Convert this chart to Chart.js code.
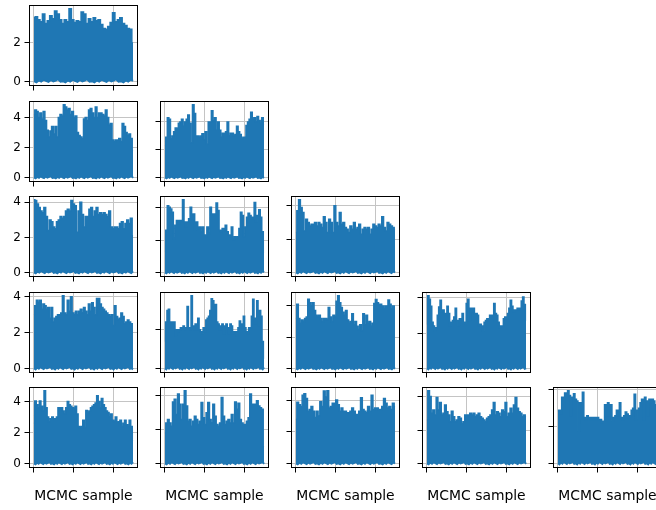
<!DOCTYPE html>
<html>
<head>
<meta charset="utf-8">
<script src="https://cdn.jsdelivr.net/npm/chart.js@4.4.1/dist/chart.umd.min.js"></script>
<style>
  html, body { margin: 0; padding: 0; background: #fff; overflow: hidden; }
  body { width: 656px; height: 510px; position: relative; }
  canvas { position: absolute; }
</style>
</head>
<body>
<script>
// tick positions shared by every trace panel
const sampleTicks = [0, 1000, 2000];
const valueTicks = [0, 2, 4];
const lastSample = 2499;

// lower excursions of the chains (close to zero everywhere)
const floorValues = [0.02, -0.04, 0.06, 0.0, 0.1, 0.03, -0.02, 0.08, 0.01, 0.05, 0.12, -0.01];

// upper excursions of each chain, left to right
const trace00 = [3.3, 3.35, 3.2, 3.1, 3.5, 3.0, 3.15, 3.4, 3.25, 3.65, 3.5, 3.2, 3.0, 3.2, 3.1, 3.77, 3.2, 3.05, 3.15, 3.1, 3.6, 3.5, 3.0, 3.25, 3.1, 3.3, 3.15, 3.2, 2.95, 2.75, 2.7, 2.85, 3.05, 3.56, 3.1, 3.2, 3.3, 3.0, 2.9, 2.75, 2.7, 2.0];
const trace10 = [4.2, 4.5, 4.4, 4.0, 4.3, 3.9, 4.4, 3.8, 3.15, 2.7, 3.1, 3.4, 2.9, 3.4, 2.7, 4.0, 4.2, 4.1, 4.85, 4.7, 4.5, 4.6, 4.2, 4.4, 4.0, 4.1, 3.0, 2.8, 2.7, 2.6, 3.9, 4.0, 3.8, 4.5, 4.6, 4.3, 4.0, 4.7, 4.0, 4.3, 4.3, 4.2, 4.1, 4.5, 4.0, 3.5, 3.6, 2.5, 2.4, 2.5, 2.5, 2.6, 2.4, 3.6, 3.4, 3.0, 2.8, 2.9, 2.6, 1.8];
const trace11 = [2.3, 2.9, 4.3, 4.2, 2.8, 3.0, 3.3, 3.56, 3.5, 3.9, 4.0, 4.2, 3.7, 4.0, 4.2, 4.5, 3.9, 2.5, 5.24, 4.6, 3.0, 3.0, 2.9, 3.0, 3.15, 2.7, 3.3, 2.4, 4.0, 4.0, 4.8, 4.1, 4.3, 3.4, 4.0, 3.4, 2.9, 3.2, 3.2, 3.3, 4.0, 3.0, 3.2, 3.2, 3.0, 3.1, 3.7, 3.3, 3.1, 2.8, 2.9, 2.9, 3.75, 4.0, 4.2, 4.7, 4.2, 4.3, 4.0, 4.4, 4.1, 3.9, 4.3, 3.8];
const trace20 = [4.15, 4.1, 3.9, 3.7, 3.5, 3.4, 3.7, 3.2, 2.4, 3.0, 2.9, 2.6, 2.5, 2.9, 3.0, 3.2, 3.1, 3.2, 3.5, 3.6, 3.5, 4.1, 3.9, 3.8, 2.3, 3.5, 4.0, 3.3, 2.6, 3.2, 3.2, 3.6, 3.7, 3.2, 3.5, 3.7, 3.3, 3.4, 3.3, 3.4, 3.3, 3.2, 3.5, 2.6, 2.5, 2.6, 2.6, 2.5, 2.8, 2.9, 2.5, 2.8, 3.0, 2.8, 3.1, 2.1];
const trace21 = [1.3, 2.6, 4.1, 4.0, 3.9, 3.7, 2.1, 2.9, 3.2, 3.0, 3.2, 3.2, 4.47, 3.1, 2.8, 3.1, 3.3, 4.0, 3.3, 3.6, 2.6, 3.1, 2.7, 2.8, 2.5, 2.8, 2.3, 2.2, 2.8, 2.4, 4.0, 3.6, 3.4, 3.6, 4.26, 3.8, 2.6, 2.5, 2.7, 2.4, 2.9, 2.5, 2.3, 2.2, 2.8, 2.0, 2.2, 2.1, 2.2, 2.7, 3.7, 3.5, 2.2, 2.8, 3.4, 3.64, 3.5, 3.4, 3.3, 4.3, 3.1, 3.5, 3.85, 3.4, 2.5, 1.2];
const trace22 = [2.4, 3.7, 4.37, 3.9, 3.6, 2.5, 3.2, 3.0, 2.8, 2.9, 2.9, 3.0, 2.8, 3.0, 2.9, 2.7, 3.35, 3.0, 2.4, 3.2, 3.0, 2.4, 4.0, 3.0, 2.8, 3.6, 2.9, 3.0, 2.7, 2.6, 2.4, 2.8, 2.6, 3.0, 2.6, 2.7, 2.9, 2.3, 2.6, 2.7, 2.6, 2.7, 2.3, 2.6, 2.9, 2.8, 2.7, 2.9, 2.8, 3.35, 2.7, 2.5, 3.0, 2.9, 2.8, 2.7, 2.6];
const trace30 = [3.0, 3.5, 3.8, 3.7, 3.8, 3.3, 3.6, 3.5, 3.3, 3.4, 2.8, 3.4, 2.6, 2.8, 2.9, 3.0, 3.0, 3.1, 4.06, 3.1, 3.0, 3.8, 3.2, 4.0, 3.1, 3.0, 3.2, 3.0, 3.2, 3.3, 3.1, 3.4, 3.2, 3.0, 3.6, 3.2, 3.66, 3.4, 3.0, 3.9, 3.9, 3.6, 3.4, 3.3, 3.2, 3.1, 3.0, 2.9, 3.0, 2.4, 3.5, 2.9, 2.7, 2.8, 3.1, 2.9, 2.5, 2.6, 2.7, 2.6, 2.5, 1.0];
const trace31 = [1.4, 2.4, 3.0, 3.06, 2.4, 2.4, 2.3, 2.4, 1.7, 2.0, 1.9, 2.0, 2.1, 2.1, 2.2, 2.0, 2.1, 3.2, 2.1, 2.0, 3.76, 2.2, 2.0, 2.3, 2.0, 2.6, 2.0, 1.9, 1.8, 2.1, 1.9, 2.5, 2.6, 2.7, 3.0, 3.6, 3.5, 3.2, 3.3, 2.4, 2.3, 2.0, 2.2, 2.3, 1.8, 2.2, 2.3, 2.1, 1.8, 2.3, 2.2, 1.8, 1.9, 1.9, 1.7, 2.1, 2.45, 2.3, 2.1, 2.7, 2.1, 1.9, 1.8, 2.1, 2.1, 2.7, 3.58, 2.3, 2.6, 3.5, 2.2, 3.0, 2.7, 1.4, 0.5];
const trace32 = [3.2, 4.1, 3.2, 2.9, 3.1, 3.0, 3.2, 3.3, 4.43, 4.2, 4.0, 4.2, 3.7, 3.4, 3.3, 3.4, 3.2, 3.0, 3.2, 3.2, 3.1, 3.9, 3.3, 3.0, 3.4, 3.3, 4.3, 4.65, 4.2, 3.9, 3.6, 3.4, 3.7, 3.1, 2.9, 3.0, 3.5, 2.8, 3.0, 2.7, 2.5, 2.8, 2.4, 3.5, 2.8, 3.4, 2.9, 3.0, 2.7, 2.9, 4.15, 4.4, 4.2, 4.1, 4.1, 4.0, 3.8, 4.0, 4.0, 4.37, 4.1, 3.8, 4.0, 3.8];
const trace33 = [2.5, 4.1, 3.9, 3.5, 2.6, 2.4, 2.1, 2.3, 3.0, 3.47, 3.85, 3.2, 3.3, 3.0, 3.1, 3.5, 3.1, 2.4, 2.6, 2.7, 2.9, 3.4, 2.7, 2.4, 2.8, 2.5, 3.1, 2.6, 2.5, 3.66, 3.9, 2.7, 3.4, 3.2, 3.4, 3.1, 3.1, 3.0, 2.4, 2.5, 2.4, 2.1, 2.6, 2.7, 2.8, 2.6, 3.0, 2.6, 3.0, 3.66, 3.1, 3.0, 2.6, 2.3, 2.4, 2.4, 2.8, 2.9, 2.8, 3.1, 3.4, 3.85, 3.5, 3.2, 3.3, 3.3, 3.4, 3.3, 3.4, 3.8, 4.03, 3.6, 2.7];
const trace40 = [2.6, 4.04, 3.8, 3.6, 4.04, 3.7, 3.4, 4.7, 3.6, 3.0, 2.7, 2.9, 3.0, 2.9, 2.9, 3.0, 3.6, 3.6, 3.6, 3.4, 3.2, 3.6, 4.0, 3.8, 3.7, 3.6, 3.5, 3.7, 3.2, 2.4, 2.3, 2.4, 2.8, 2.3, 3.43, 3.3, 3.4, 3.6, 3.7, 3.8, 3.9, 4.37, 4.0, 3.6, 4.2, 3.8, 3.6, 3.4, 3.3, 3.0, 3.2, 2.8, 2.7, 3.0, 2.6, 2.7, 2.8, 2.4, 2.6, 2.8, 2.5, 2.4, 2.8, 2.4, 1.5];
const trace41 = [1.8, 2.4, 2.6, 2.4, 2.2, 3.64, 3.8, 2.9, 4.1, 3.5, 2.6, 3.5, 4.3, 3.4, 2.5, 2.6, 2.2, 2.5, 2.8, 2.6, 2.3, 2.5, 3.6, 2.7, 2.3, 3.0, 3.6, 2.6, 2.4, 3.5, 2.8, 2.3, 2.2, 2.4, 3.9, 2.8, 2.3, 2.5, 2.6, 2.4, 2.9, 2.4, 3.64, 3.2, 3.56, 2.6, 2.4, 2.3, 2.3, 2.5, 2.7, 4.1, 3.5, 3.5, 3.5, 3.7, 3.4, 3.3, 3.2, 1.0];
const trace42 = [2.8, 3.87, 3.7, 3.6, 4.3, 4.4, 4.1, 3.3, 3.4, 3.6, 3.3, 2.9, 3.3, 3.0, 3.9, 3.6, 4.57, 4.2, 4.59, 3.5, 3.6, 3.8, 3.8, 4.0, 3.7, 3.3, 3.5, 3.3, 3.3, 3.2, 3.2, 3.3, 3.5, 3.3, 3.1, 3.1, 3.3, 4.15, 3.4, 3.3, 3.2, 3.6, 3.3, 4.3, 3.4, 3.5, 3.5, 3.4, 3.4, 3.6, 4.1, 3.8, 3.5, 3.6, 3.4, 3.8, 3.6];
const trace43 = [2.6, 4.35, 4.0, 3.0, 3.2, 2.9, 3.94, 3.2, 3.64, 2.9, 3.0, 3.5, 3.1, 2.9, 2.5, 3.13, 2.8, 2.5, 2.6, 2.8, 2.7, 2.4, 2.5, 2.9, 2.9, 2.9, 3.0, 2.9, 3.0, 2.8, 2.9, 3.0, 2.8, 2.7, 2.6, 2.5, 2.7, 2.8, 2.9, 3.2, 3.64, 2.9, 3.1, 3.0, 2.8, 3.2, 3.1, 3.64, 2.8, 3.0, 3.3, 3.0, 3.5, 3.94, 3.3, 3.1, 3.0, 2.8, 2.9, 2.8];
const trace44 = [2.85, 2.9, 2.7, 3.6, 3.0, 3.83, 3.6, 3.96, 3.7, 2.6, 3.6, 3.8, 3.5, 3.4, 1.75, 3.3, 2.5, 3.87, 2.5, 2.4, 2.6, 2.5, 2.4, 2.5, 2.4, 2.5, 2.4, 2.5, 2.4, 2.4, 2.2, 2.3, 3.2, 2.6, 3.3, 2.6, 3.2, 2.3, 2.5, 2.6, 2.9, 2.6, 3.3, 2.5, 2.4, 2.6, 2.8, 2.7, 2.5, 2.6, 2.9, 3.0, 3.77, 2.4, 2.9, 3.0, 3.3, 3.5, 2.4, 3.6, 3.4, 2.6, 3.5, 3.3, 3.5, 3.4, 3.2, 3.0];

// [row, column, chain]
const panels = [
    [0, 0, trace00],
    [1, 0, trace10], [1, 1, trace11],
    [2, 0, trace20], [2, 1, trace21], [2, 2, trace22],
    [3, 0, trace30], [3, 1, trace31], [3, 2, trace32], [3, 3, trace33],
    [4, 0, trace40], [4, 1, trace41], [4, 2, trace42], [4, 3, trace43], [4, 4, trace44]
];

// grid geometry (page pixels of each axes box)
const colLeft = [29, 160, 291, 422, 553];
const rowTop = [5, 101, 196, 292, 387];
const BOX_W = 109;
const BOX_H = 81;
const Y_AXIS_W = 32;
const PAD_T = 3;
const PAD_R = 4;
const PAGE_H = 510;

const FONT = 'DejaVu Sans';
const LINE = '#1f77b4';
const GRID = '#c4c4c4';

// spines on all four sides, drawn over the trace
const frameBox = {
    id: 'frameBox',
    afterDraw(chart) {
        const { ctx, chartArea } = chart;
        const l = Math.round(chartArea.left) + 0.5;
        const t = Math.round(chartArea.top) + 0.5;
        const r = Math.round(chartArea.right) - 0.5;
        const b = Math.round(chartArea.bottom) - 0.5;
        ctx.save();
        ctx.strokeStyle = '#000';
        ctx.lineWidth = 1;
        ctx.strokeRect(l, t, r - l, b - t);
        ctx.restore();
    }
};

function buildSeries(peaks) {
    const step = lastSample / (peaks.length - 1);
    const upper = peaks.map((v, i) => ({ x: i * step, y: v }));
    const lower = peaks.map((v, i) => ({ x: i * step, y: floorValues[i % floorValues.length] }));
    return { upper, lower };
}

// keep the axes box fixed: no extra room for overhanging tick labels
function fixSize(scale, size) {
    if (scale.isHorizontal()) {
        scale.height = size;
    } else {
        scale.width = size;
    }
    scale.paddingTop = 0;
    scale.paddingBottom = 0;
    scale.paddingLeft = 0;
    scale.paddingRight = 0;
}

function drawPanel(row, col, peaks) {
    const bottomRow = row === 4;
    const xAxisH = bottomRow ? PAGE_H - (rowTop[row] + BOX_H) : 6;

    const canvas = document.createElement('canvas');
    canvas.width = Y_AXIS_W + BOX_W + PAD_R;
    canvas.height = PAD_T + BOX_H + xAxisH;
    canvas.style.left = (colLeft[col] - Y_AXIS_W) + 'px';
    canvas.style.top = (rowTop[row] - PAD_T) + 'px';
    document.body.appendChild(canvas);

    const { upper, lower } = buildSeries(peaks);
    const ys = peaks.concat(lower.map(p => p.y));
    const lo = Math.min(...ys);
    const hi = Math.max(...ys);
    const yPad = (hi - lo) * 0.05;
    const xPad = lastSample * 0.05;

    const gridOpts = {
        color: GRID,
        lineWidth: 1,
        tickColor: '#000',
        tickWidth: 1,
        tickLength: 4.5
    };

    new Chart(canvas.getContext('2d'), {
        type: 'line',
        data: {
            datasets: [
                {
                    data: upper,
                    borderColor: LINE,
                    backgroundColor: LINE,
                    borderWidth: 1.5,
                    pointRadius: 0,
                    stepped: 'middle',
                    fill: '+1'
                },
                {
                    data: lower,
                    borderColor: LINE,
                    borderWidth: 2,
                    pointRadius: 0,
                    fill: false
                }
            ]
        },
        options: {
            responsive: false,
            animation: false,
            devicePixelRatio: 1,
            layout: { padding: { top: PAD_T, right: PAD_R, left: 0, bottom: 0 } },
            plugins: {
                legend: { display: false },
                tooltip: { enabled: false }
            },
            scales: {
                x: {
                    type: 'linear',
                    min: -xPad,
                    max: lastSample + xPad,
                    afterBuildTicks: s => { s.ticks = sampleTicks.map(v => ({ value: v })); },
                    afterFit: s => fixSize(s, xAxisH),
                    ticks: { display: false },
                    grid: gridOpts,
                    border: { display: false },
                    title: {
                        display: bottomRow,
                        text: 'MCMC sample',
                        color: '#000',
                        font: { family: FONT, size: 13.9 },
                        padding: { top: 0, bottom: 5 }
                    }
                },
                y: {
                    type: 'linear',
                    min: lo - yPad,
                    max: hi + yPad,
                    afterBuildTicks: s => {
                        s.ticks = valueTicks.filter(v => v >= s.min && v <= s.max).map(v => ({ value: v }));
                    },
                    afterFit: s => fixSize(s, Y_AXIS_W),
                    ticks: {
                        display: col === 0,
                        padding: 3.5,
                        color: '#000',
                        font: { family: FONT, size: 12 }
                    },
                    grid: gridOpts,
                    border: { display: false }
                }
            }
        },
        plugins: [frameBox]
    });
}

panels.forEach(([row, col, peaks]) => drawPanel(row, col, peaks));
</script>
</body>
</html>
